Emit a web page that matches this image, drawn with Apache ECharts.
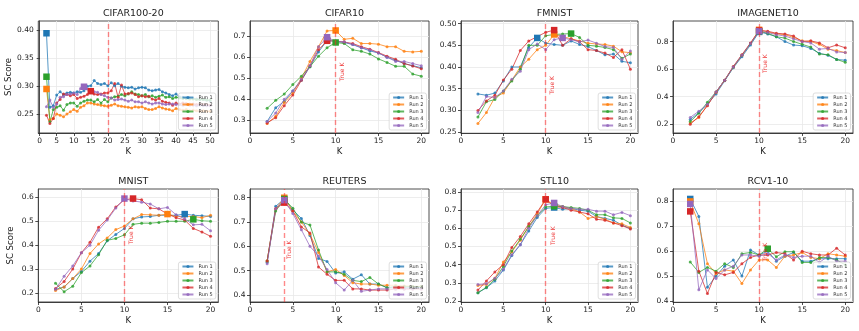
<!DOCTYPE html>
<html>
<head>
<meta charset="utf-8">
<script src="https://cdn.jsdelivr.net/npm/echarts@6/dist/echarts.min.js"></script>
<style>
  html, body { margin: 0; padding: 0; background: #fff; }
  #main { width: 859px; height: 331px; }
</style>
</head>
<body>
<div id="main"></div>
<script>
var myChart = echarts.init(document.getElementById('main'));

// runs
var runNames = ['Run 1', 'Run 2', 'Run 3', 'Run 4', 'Run 5'];
var runColors = ['#1f77b4', '#ff7f0e', '#2ca02c', '#d62728', '#9467bd'];

// K values
var kShort = [2, 3, 4, 5, 6, 7, 8, 9, 10, 11, 12, 13, 14, 15, 16, 17, 18, 19, 20];
var kLong = [2, 3, 4, 5, 6, 7, 8, 9, 10, 11, 12, 13, 14, 15, 16, 17, 18, 19, 20, 21, 22, 23, 24, 25, 26,
  27, 28, 29, 30, 31, 32, 33, 34, 35, 36, 37, 38, 39, 40, 41, 42, 43, 44, 45, 46, 47, 48, 49, 50];

// CIFAR100-20
var cifar100Runs = [
  [0.395, 0.262, 0.265, 0.284, 0.290, 0.285, 0.288, 0.289, 0.288, 0.290, 0.289, 0.292, 0.300, 0.301, 0.310, 0.305, 0.303, 0.305, 0.301, 0.306, 0.301, 0.305, 0.300, 0.298, 0.297,
    0.298, 0.295, 0.297, 0.298, 0.297, 0.293, 0.292, 0.293, 0.294, 0.290, 0.288, 0.285, 0.283, 0.286, 0.281, 0.280, 0.279, 0.279, 0.278, 0.277, 0.276, 0.276, 0.275, 0.274],
  [0.295, 0.240, 0.242, 0.250, 0.248, 0.245, 0.250, 0.254, 0.258, 0.255, 0.262, 0.265, 0.270, 0.270, 0.268, 0.267, 0.266, 0.265, 0.264, 0.266, 0.268, 0.265, 0.264, 0.263, 0.262,
    0.261, 0.263, 0.262, 0.263, 0.260, 0.258, 0.258, 0.260, 0.263, 0.261, 0.259, 0.258, 0.256, 0.260, 0.258, 0.257, 0.258, 0.256, 0.257, 0.256, 0.255, 0.256, 0.255, 0.255],
  [0.317, 0.236, 0.258, 0.262, 0.265, 0.257, 0.267, 0.270, 0.270, 0.264, 0.270, 0.273, 0.275, 0.275, 0.272, 0.276, 0.270, 0.276, 0.272, 0.279, 0.281, 0.282, 0.285, 0.283, 0.286,
    0.290, 0.286, 0.285, 0.283, 0.285, 0.281, 0.283, 0.280, 0.282, 0.284, 0.280, 0.281, 0.278, 0.280, 0.279, 0.278, 0.278, 0.277, 0.277, 0.276, 0.276, 0.276, 0.275, 0.275],
  [0.248, 0.233, 0.242, 0.270, 0.276, 0.286, 0.285, 0.283, 0.285, 0.278, 0.280, 0.282, 0.285, 0.291, 0.286, 0.285, 0.286, 0.288, 0.288, 0.292, 0.305, 0.280, 0.302, 0.286, 0.287,
    0.288, 0.285, 0.281, 0.283, 0.281, 0.282, 0.277, 0.275, 0.278, 0.273, 0.271, 0.270, 0.266, 0.270, 0.268, 0.270, 0.269, 0.268, 0.268, 0.267, 0.268, 0.267, 0.267, 0.266],
  [0.263, 0.275, 0.262, 0.268, 0.280, 0.281, 0.285, 0.286, 0.288, 0.285, 0.296, 0.299, 0.295, 0.292, 0.290, 0.289, 0.285, 0.283, 0.280, 0.279, 0.275, 0.276, 0.277, 0.275, 0.273,
    0.275, 0.272, 0.272, 0.270, 0.272, 0.270, 0.268, 0.270, 0.270, 0.268, 0.267, 0.268, 0.268, 0.267, 0.267, 0.266, 0.267, 0.266, 0.266, 0.265, 0.266, 0.265, 0.265, 0.265]
];
var cifar100Best = [2, 2, 2, 15, 13];

// CIFAR10
var cifar10Runs = [
  [0.295, 0.360, 0.390, 0.440, 0.490, 0.555, 0.625, 0.680, 0.675, 0.670, 0.660, 0.645, 0.630, 0.620, 0.600, 0.585, 0.570, 0.560, 0.550],
  [0.285, 0.320, 0.385, 0.430, 0.500, 0.580, 0.650, 0.725, 0.727, 0.685, 0.690, 0.665, 0.665, 0.662, 0.650, 0.650, 0.628, 0.625, 0.628],
  [0.357, 0.395, 0.425, 0.470, 0.510, 0.555, 0.605, 0.645, 0.670, 0.665, 0.635, 0.628, 0.615, 0.592, 0.575, 0.557, 0.557, 0.520, 0.510],
  [0.288, 0.313, 0.370, 0.420, 0.490, 0.560, 0.635, 0.678, 0.677, 0.672, 0.665, 0.650, 0.638, 0.622, 0.605, 0.590, 0.570, 0.558, 0.545],
  [0.295, 0.335, 0.400, 0.440, 0.495, 0.560, 0.650, 0.695, 0.675, 0.673, 0.660, 0.645, 0.635, 0.620, 0.600, 0.580, 0.580, 0.570, 0.560]
];
var cifar10Best = [9, 10, 10, 9, 9];

// FMNIST
var fmnistRuns = [
  [0.338, 0.335, 0.340, 0.368, 0.400, 0.400, 0.445, 0.467, 0.455, 0.452, 0.450, 0.460, 0.452, 0.447, 0.438, 0.428, 0.430, 0.413, 0.410],
  [0.270, 0.295, 0.330, 0.340, 0.370, 0.400, 0.418, 0.440, 0.450, 0.475, 0.470, 0.465, 0.460, 0.455, 0.453, 0.452, 0.448, 0.435, 0.433],
  [0.285, 0.320, 0.325, 0.345, 0.368, 0.395, 0.450, 0.450, 0.472, 0.475, 0.476, 0.477, 0.468, 0.450, 0.448, 0.445, 0.440, 0.420, 0.430],
  [0.300, 0.322, 0.335, 0.370, 0.395, 0.438, 0.460, 0.470, 0.480, 0.485, 0.450, 0.465, 0.458, 0.440, 0.438, 0.432, 0.422, 0.440, 0.395],
  [0.295, 0.332, 0.330, 0.345, 0.372, 0.390, 0.440, 0.453, 0.440, 0.463, 0.467, 0.463, 0.458, 0.462, 0.455, 0.447, 0.445, 0.418, 0.437]
];
var fmnistBest = [9, 11, 13, 11, 12];

// IMAGENET10
var imagenetRuns = [
  [0.235, 0.285, 0.345, 0.420, 0.515, 0.610, 0.690, 0.775, 0.870, 0.855, 0.835, 0.800, 0.775, 0.770, 0.750, 0.715, 0.700, 0.670, 0.665],
  [0.210, 0.250, 0.340, 0.430, 0.520, 0.615, 0.700, 0.785, 0.885, 0.870, 0.855, 0.850, 0.830, 0.805, 0.800, 0.780, 0.745, 0.735, 0.720],
  [0.220, 0.280, 0.360, 0.435, 0.520, 0.615, 0.700, 0.785, 0.875, 0.860, 0.835, 0.825, 0.800, 0.780, 0.760, 0.710, 0.705, 0.670, 0.650],
  [0.200, 0.255, 0.335, 0.435, 0.520, 0.620, 0.705, 0.790, 0.880, 0.875, 0.860, 0.855, 0.840, 0.800, 0.805, 0.790, 0.755, 0.775, 0.755],
  [0.250, 0.295, 0.345, 0.435, 0.520, 0.615, 0.700, 0.785, 0.875, 0.865, 0.850, 0.840, 0.820, 0.800, 0.790, 0.745, 0.750, 0.725, 0.720]
];
var imagenetBest = [10, 10, 10, 10, 10];

// MNIST
var mnistRuns = [
  [0.215, 0.225, 0.260, 0.290, 0.333, 0.365, 0.418, 0.445, 0.470, 0.510, 0.518, 0.520, 0.525, 0.525, 0.525, 0.530, 0.525, 0.523, 0.520],
  [0.210, 0.225, 0.260, 0.300, 0.365, 0.405, 0.430, 0.465, 0.480, 0.510, 0.528, 0.527, 0.525, 0.530, 0.520, 0.520, 0.520, 0.515, 0.525],
  [0.240, 0.205, 0.228, 0.285, 0.313, 0.360, 0.420, 0.428, 0.443, 0.487, 0.492, 0.492, 0.495, 0.500, 0.500, 0.500, 0.508, 0.502, 0.500],
  [0.218, 0.248, 0.300, 0.368, 0.412, 0.475, 0.510, 0.560, 0.590, 0.595, 0.590, 0.555, 0.552, 0.530, 0.515, 0.505, 0.470, 0.455, 0.437],
  [0.215, 0.270, 0.313, 0.368, 0.400, 0.462, 0.505, 0.555, 0.595, 0.585, 0.580, 0.572, 0.552, 0.558, 0.527, 0.510, 0.485, 0.487, 0.460]
];
var mnistBest = [17, 15, 18, 11, 10];

// REUTERS
var reutersRuns = [
  [0.535, 0.765, 0.795, 0.750, 0.715, 0.645, 0.550, 0.538, 0.490, 0.495, 0.465, 0.483, 0.445, 0.445, 0.430, 0.432, 0.430, 0.430, 0.430],
  [0.540, 0.755, 0.800, 0.745, 0.700, 0.650, 0.575, 0.495, 0.505, 0.480, 0.450, 0.445, 0.445, 0.440, 0.440, 0.440, 0.437, 0.435, 0.435],
  [0.540, 0.745, 0.795, 0.757, 0.700, 0.688, 0.585, 0.495, 0.495, 0.485, 0.460, 0.455, 0.472, 0.445, 0.430, 0.435, 0.435, 0.435, 0.435],
  [0.540, 0.755, 0.780, 0.745, 0.680, 0.655, 0.515, 0.485, 0.460, 0.460, 0.425, 0.425, 0.420, 0.420, 0.420, 0.425, 0.425, 0.425, 0.425],
  [0.528, 0.755, 0.790, 0.735, 0.668, 0.600, 0.560, 0.505, 0.450, 0.420, 0.460, 0.415, 0.420, 0.425, 0.425, 0.425, 0.425, 0.425, 0.425]
];
var reutersBest = [4, 4, 4, 4, 4];

// STL10
var stlRuns = [
  [0.245, 0.272, 0.310, 0.370, 0.450, 0.510, 0.585, 0.660, 0.710, 0.715, 0.705, 0.710, 0.700, 0.695, 0.665, 0.655, 0.645, 0.618, 0.600],
  [0.285, 0.290, 0.325, 0.415, 0.470, 0.535, 0.610, 0.680, 0.760, 0.730, 0.720, 0.710, 0.690, 0.655, 0.665, 0.650, 0.630, 0.625, 0.605],
  [0.245, 0.275, 0.320, 0.390, 0.475, 0.540, 0.610, 0.670, 0.718, 0.722, 0.720, 0.715, 0.710, 0.700, 0.675, 0.675, 0.658, 0.655, 0.630],
  [0.260, 0.310, 0.360, 0.400, 0.495, 0.555, 0.625, 0.690, 0.760, 0.720, 0.715, 0.700, 0.690, 0.680, 0.650, 0.645, 0.630, 0.615, 0.597],
  [0.290, 0.295, 0.325, 0.375, 0.455, 0.510, 0.600, 0.670, 0.730, 0.740, 0.720, 0.710, 0.705, 0.705, 0.695, 0.695, 0.675, 0.688, 0.670]
];
var stlBest = [11, 10, 11, 10, 11];

// RCV1-10
var rcvRuns = [
  [0.810, 0.740, 0.455, 0.500, 0.540, 0.565, 0.500, 0.605, 0.585, 0.600, 0.560, 0.580, 0.595, 0.560, 0.560, 0.570, 0.570, 0.570, 0.570],
  [0.800, 0.710, 0.550, 0.510, 0.525, 0.520, 0.470, 0.525, 0.565, 0.565, 0.535, 0.580, 0.585, 0.595, 0.575, 0.570, 0.590, 0.585, 0.580],
  [0.557, 0.515, 0.535, 0.520, 0.550, 0.535, 0.590, 0.595, 0.585, 0.610, 0.578, 0.598, 0.598, 0.555, 0.555, 0.575, 0.575, 0.565, 0.545],
  [0.760, 0.520, 0.430, 0.515, 0.505, 0.515, 0.550, 0.575, 0.585, 0.585, 0.595, 0.590, 0.565, 0.600, 0.590, 0.585, 0.585, 0.612, 0.585],
  [0.790, 0.445, 0.525, 0.490, 0.525, 0.540, 0.585, 0.585, 0.580, 0.590, 0.565, 0.585, 0.575, 0.580, 0.580, 0.555, 0.580, 0.560, 0.560]
];
var rcvBest = [2, 2, 11, 2, 2];

// tick labels
var xTicks20 = [0, 5, 10, 15, 20];
var xTicks50 = [0, 5, 10, 15, 20, 25, 30, 35, 40, 45, 50];

var panels = [
  { title: 'CIFAR100-20', k: kLong, runs: cifar100Runs, best: cifar100Best, trueK: 20, xTicks: xTicks50, xMin: -0.4, xMax: 52.4,
    yTicks: [0.25, 0.30, 0.35, 0.40], yDec: 2, yMin: 0.216, yMax: 0.417, textAt: null },
  { title: 'CIFAR10', k: kShort, runs: cifar10Runs, best: cifar10Best, trueK: 10, xTicks: xTicks20, xMin: 0, xMax: 20.9,
    yTicks: [0.3, 0.4, 0.5, 0.6, 0.7], yDec: 1, yMin: 0.24, yMax: 0.772, textAt: [10.8, 0.53] },
  { title: 'FMNIST', k: kShort, runs: fmnistRuns, best: fmnistBest, trueK: 10, xTicks: xTicks20, xMin: 0, xMax: 20.9,
    yTicks: [0.25, 0.30, 0.35, 0.40, 0.45, 0.50], yDec: 2, yMin: 0.248, yMax: 0.506, textAt: [10.85, 0.358] },
  { title: 'IMAGENET10', k: kShort, runs: imagenetRuns, best: imagenetBest, trueK: 10, xTicks: xTicks20, xMin: 0, xMax: 20.9,
    yTicks: [0.2, 0.4, 0.6, 0.8], yDec: 1, yMin: 0.137, yMax: 0.949, textAt: [10.75, 0.64] },
  { title: 'MNIST', k: kShort, runs: mnistRuns, best: mnistBest, trueK: 10, xTicks: xTicks20, xMin: 0, xMax: 20.9,
    yTicks: [0.2, 0.3, 0.4, 0.5, 0.6], yDec: 1, yMin: 0.162, yMax: 0.635, textAt: [10.78, 0.443] },
  { title: 'REUTERS', k: kShort, runs: reutersRuns, best: reutersBest, trueK: 4, xTicks: xTicks20, xMin: 0, xMax: 20.9,
    yTicks: [0.4, 0.5, 0.6, 0.7, 0.8], yDec: 1, yMin: 0.371, yMax: 0.836, textAt: [4.6, 0.586] },
  { title: 'STL10', k: kShort, runs: stlRuns, best: stlBest, trueK: 10, xTicks: xTicks20, xMin: 0, xMax: 20.9,
    yTicks: [0.2, 0.3, 0.4, 0.5, 0.6, 0.7, 0.8], yDec: 1, yMin: 0.194, yMax: 0.817, textAt: [10.95, 0.56] },
  { title: 'RCV1-10', k: kShort, runs: rcvRuns, best: rcvBest, trueK: 10, xTicks: xTicks20, xMin: 0, xMax: 20.9,
    yTicks: [0.4, 0.5, 0.6, 0.7, 0.8], yDec: 1, yMin: 0.396, yMax: 0.85, textAt: [10.75, 0.596] }
];

// layout of the 4x2 panels (pixels)
var colLeft = [38.3, 250, 461, 673];
var colWidth = [180, 179, 177, 180];
var rowTop = [21, 189];
var rowHeight = [112, 113];
var W = 859, H = 331;

var grids = [], xAxes = [], yAxes = [], titles = [], legends = [], series = [];

panels.forEach(function (p, i) {
  var col = i % 4, row = Math.floor(i / 4);
  var left = colLeft[col], top = rowTop[row], width = colWidth[col], height = rowHeight[row];

  grids.push({
    left: left, top: top, width: width, height: height,
    show: true, borderColor: '#222', borderWidth: 0.8, backgroundColor: 'transparent'
  });

  titles.push({
    text: p.title, left: left + width / 2, top: top - 17, textAlign: 'center',
    textStyle: { fontSize: 9.5, fontWeight: 'normal', color: '#222', fontFamily: 'DejaVu Sans' }
  });

  xAxes.push({
    type: 'value', gridIndex: i, min: p.xMin, max: p.xMax,
    name: 'K', nameLocation: 'middle', nameGap: 14,
    nameTextStyle: { fontSize: 8.5, color: '#222' },
    axisLine: { show: true, lineStyle: { color: '#222', width: 0.8 } },
    axisTick: { show: true, length: 3, customValues: p.xTicks, lineStyle: { color: '#222', width: 0.8 } },
    axisLabel: { customValues: p.xTicks, fontSize: 7.5, color: '#222', margin: 4.5 },
    splitLine: { show: true, lineStyle: { color: '#e8e8e8', width: 0.8 } }
  });

  yAxes.push({
    type: 'value', gridIndex: i, min: p.yMin, max: p.yMax,
    name: col === 0 ? 'SC Score' : '', nameLocation: 'middle', nameGap: 23,
    nameTextStyle: { fontSize: 8.5, color: '#222' },
    axisLine: { show: true, lineStyle: { color: '#222', width: 0.8 } },
    axisTick: { show: true, length: 3, customValues: p.yTicks, lineStyle: { color: '#222', width: 0.8 } },
    axisLabel: {
      customValues: p.yTicks, fontSize: 7.5, color: '#222', margin: 4.5,
      formatter: (function (d) { return function (v) { return v.toFixed(d); }; })(p.yDec)
    },
    splitLine: { show: true, lineStyle: { color: '#e8e8e8', width: 0.8 } }
  });

  legends.push({
    data: runNames, orient: 'vertical',
    right: W - (left + width) + 2.5, bottom: H - (top + height) + 3,
    itemWidth: 11, itemHeight: 4, itemGap: 2,
    textStyle: { fontSize: 5, color: '#333', lineHeight: 5 },
    padding: [2, 3, 2, 3], borderColor: '#d0d0d0', borderWidth: 0.7, borderRadius: 2,
    backgroundColor: 'rgba(255,255,255,0.8)', selectedMode: false
  });

  p.runs.forEach(function (vals, r) {
    series.push({
      type: 'line', name: runNames[r], xAxisIndex: i, yAxisIndex: i,
      data: p.k.map(function (k, j) { return [k, vals[j]]; }),
      symbol: 'circle', symbolSize: 3, showSymbol: true,
      lineStyle: { color: runColors[r], width: 1, opacity: 0.75 },
      itemStyle: { color: runColors[r], opacity: 0.8 },
      emphasis: { disabled: true }, silent: true, z: 2
    });
    var bi = p.k.indexOf(p.best[r]);
    series.push({
      type: 'scatter', name: 'best-' + i + '-' + r, xAxisIndex: i, yAxisIndex: i,
      data: [[p.best[r], vals[bi]]],
      symbol: 'rect', symbolSize: 6.5,
      itemStyle: { color: runColors[r], opacity: 1 },
      emphasis: { disabled: true }, silent: true, z: 3
    });
  });

  // true K line and its text
  var marker = {
    type: 'scatter', name: 'truek-' + i, xAxisIndex: i, yAxisIndex: i, data: [], z: 4, silent: true,
    markLine: {
      silent: true, symbol: 'none', animation: false,
      label: { show: false },
      lineStyle: { color: 'rgba(255,40,40,0.55)', type: [5, 3], width: 1.4 },
      data: [{ xAxis: p.trueK }]
    }
  };
  if (p.textAt) {
    marker.markPoint = {
      silent: true, symbol: 'circle', symbolSize: 0, animation: false,
      label: { show: true, formatter: 'True K', rotate: 90, position: 'inside', fontSize: 6, color: 'rgba(235,20,20,0.85)' },
      data: [{ coord: p.textAt }]
    };
  }
  series.push(marker);
});

var option = {
  animation: false,
  textStyle: { fontFamily: 'DejaVu Sans' },
  title: titles,
  grid: grids,
  xAxis: xAxes,
  yAxis: yAxes,
  legend: legends,
  series: series
};

myChart.setOption(option);

window.addEventListener('resize', function () {
  myChart.resize();
});
</script>
</body>
</html>
